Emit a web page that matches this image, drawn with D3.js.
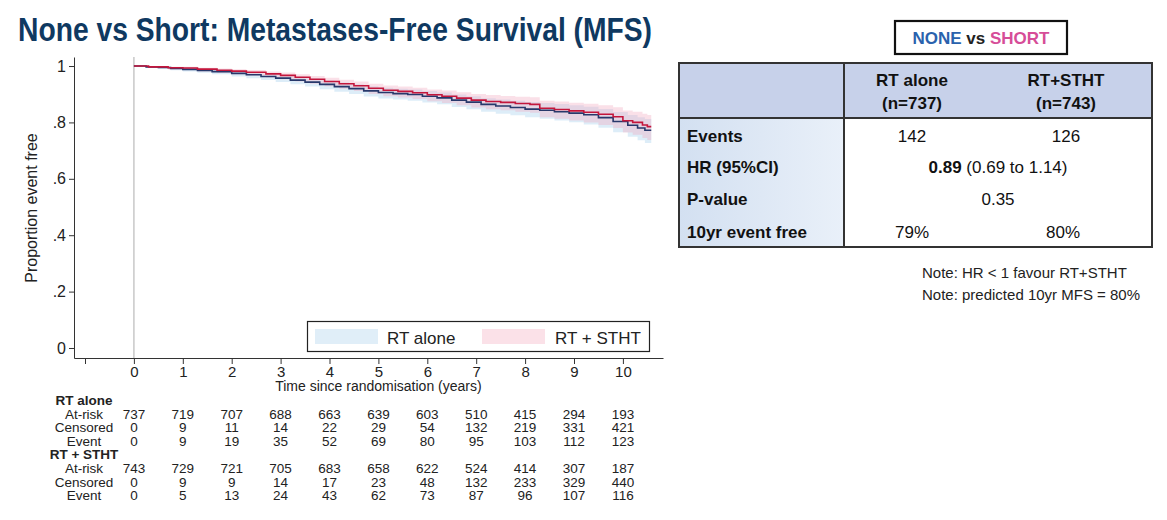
<!DOCTYPE html>
<html>
<head>
<meta charset="utf-8">
<script src="https://cdn.jsdelivr.net/npm/d3@7"></script>
<style>
  html, body { margin: 0; padding: 0; background: #ffffff; }
  svg { display: block; }
</style>
</head>
<body>
<svg id="chart" width="1167" height="520"></svg>
<script>
// ---------------- DATA ----------------
const titleText = "None vs Short: Metastases-Free Survival (MFS)";
const timeTicks = [-1, 0, 1, 2, 3, 4, 5, 6, 7, 8, 9, 10];
const yTicks = [0, 0.2, 0.4, 0.6, 0.8, 1];
const yTickLabels = ["0", ".2", ".4", ".6", ".8", "1"];
const seriesNames = ["RT alone", "RT + STHT"];

const riskYears = [0, 1, 2, 3, 4, 5, 6, 7, 8, 9, 10];
const rtAloneAtRisk   = [737, 719, 707, 688, 663, 639, 603, 510, 415, 294, 193];
const rtAloneCensored = [0, 9, 11, 14, 22, 29, 54, 132, 219, 331, 421];
const rtAloneEvent    = [0, 9, 19, 35, 52, 69, 80, 95, 103, 112, 123];
const sthtAtRisk      = [743, 729, 721, 705, 683, 658, 622, 524, 414, 307, 187];
const sthtCensored    = [0, 9, 9, 14, 17, 23, 48, 132, 233, 329, 440];
const sthtEvent       = [0, 5, 13, 24, 43, 62, 73, 87, 96, 107, 116];

// Kaplan-Meier steps: [time, survival, lowerCI, upperCI]
const rtAloneKM = [
  [0, 1.000, 1.000, 1.000], [0.25, 0.997, 0.993, 0.999], [0.5, 0.995, 0.990, 0.998],
  [0.75, 0.991, 0.985, 0.995], [1.0, 0.988, 0.981, 0.993], [1.3, 0.984, 0.976, 0.990],
  [1.6, 0.980, 0.971, 0.987], [2.0, 0.974, 0.963, 0.982], [2.3, 0.969, 0.957, 0.978],
  [2.6, 0.963, 0.950, 0.973], [2.9, 0.957, 0.943, 0.968], [3.2, 0.950, 0.935, 0.962],
  [3.5, 0.943, 0.927, 0.956], [3.8, 0.935, 0.918, 0.949], [4.1, 0.927, 0.909, 0.942],
  [4.4, 0.920, 0.901, 0.935], [4.7, 0.912, 0.892, 0.928], [5.0, 0.906, 0.885, 0.923],
  [5.3, 0.902, 0.881, 0.919], [5.6, 0.899, 0.877, 0.917], [5.9, 0.893, 0.871, 0.911],
  [6.2, 0.887, 0.864, 0.906], [6.5, 0.879, 0.855, 0.899], [6.8, 0.872, 0.847, 0.893],
  [7.1, 0.864, 0.838, 0.886], [7.4, 0.858, 0.831, 0.881], [7.7, 0.853, 0.825, 0.877],
  [8.0, 0.847, 0.818, 0.872], [8.3, 0.843, 0.813, 0.869], [8.6, 0.838, 0.807, 0.865],
  [8.9, 0.833, 0.801, 0.861], [9.2, 0.827, 0.793, 0.856], [9.5, 0.817, 0.781, 0.848],
  [9.8, 0.803, 0.765, 0.837], [10.1, 0.790, 0.749, 0.826], [10.3, 0.780, 0.737, 0.818],
  [10.45, 0.772, 0.727, 0.812], [10.58, 0.772, 0.727, 0.812]
];
const sthtKM = [
  [0, 1.000, 1.000, 1.000], [0.3, 0.997, 0.993, 0.999], [0.7, 0.994, 0.988, 0.997],
  [1.0, 0.993, 0.986, 0.997], [1.3, 0.989, 0.981, 0.994], [1.7, 0.985, 0.975, 0.991],
  [2.0, 0.982, 0.971, 0.989], [2.3, 0.978, 0.966, 0.986], [2.7, 0.972, 0.959, 0.981],
  [3.0, 0.967, 0.953, 0.977], [3.3, 0.960, 0.945, 0.971], [3.6, 0.953, 0.937, 0.965],
  [3.9, 0.945, 0.928, 0.958], [4.2, 0.937, 0.919, 0.951], [4.5, 0.930, 0.911, 0.945],
  [4.8, 0.921, 0.901, 0.937], [5.1, 0.914, 0.893, 0.931], [5.4, 0.910, 0.888, 0.927],
  [5.7, 0.905, 0.883, 0.923], [6.0, 0.898, 0.875, 0.917], [6.3, 0.893, 0.869, 0.913],
  [6.6, 0.886, 0.861, 0.907], [6.9, 0.879, 0.853, 0.901], [7.2, 0.874, 0.847, 0.897],
  [7.5, 0.871, 0.843, 0.894], [7.8, 0.867, 0.838, 0.891], [8.1, 0.864, 0.834, 0.889],
  [8.3, 0.850, 0.818, 0.877], [8.6, 0.846, 0.813, 0.874], [8.9, 0.841, 0.807, 0.870],
  [9.2, 0.836, 0.800, 0.866], [9.5, 0.829, 0.791, 0.861], [9.8, 0.820, 0.780, 0.854],
  [10.0, 0.806, 0.764, 0.842], [10.2, 0.800, 0.756, 0.838], [10.4, 0.791, 0.745, 0.831],
  [10.5, 0.785, 0.738, 0.826], [10.58, 0.785, 0.738, 0.826]
];

// Right-hand summary table
const tableHeaderTitles = ["RT alone", "RT+STHT"];
const tableHeaderN = ["(n=737)", "(n=743)"];
const tableRowLabels = ["Events", "HR (95%CI)", "P-value", "10yr event free"];
const eventsValues = ["142", "126"];
const hrBold = "0.89";
const hrCI = " (0.69 to 1.14)";
const pValue = "0.35";
const eventFree10yr = ["79%", "80%"];
const notes = ["Note: HR < 1 favour RT+STHT", "Note: predicted 10yr MFS = 80%"];

// ---------------- DRAW ----------------
const svg = d3.select("#chart");
const narrow = "'Liberation Sans Narrow', 'Arial Narrow', 'Liberation Sans', Arial, sans-serif";
const sans = "'Liberation Sans', Arial, sans-serif";

// Title
svg.append("text")
  .attr("x", 18).attr("y", 41)
  .attr("font-family", narrow).attr("font-weight", "bold")
  .attr("font-size", 34).attr("fill", "#0f3961")
  .attr("textLength", 634).attr("lengthAdjust", "spacingAndGlyphs")
  .text(titleText);

const x = d3.scaleLinear().domain([-1.225, 10.82]).range([74, 663]);
const y = d3.scaleLinear().domain([-0.0355, 1.032]).range([358, 57]);

// vertical reference line at t=0
svg.append("line")
  .attr("x1", x(0)).attr("x2", x(0))
  .attr("y1", y(1.032)).attr("y2", y(-0.0355))
  .attr("stroke", "#c8c8c8").attr("stroke-width", 1.5);

// CI bands
const band = d3.area()
  .x(d => x(d[0])).y0(d => y(d[2])).y1(d => y(d[3]))
  .curve(d3.curveStepAfter);
svg.append("path").datum(rtAloneKM).attr("d", band)
  .attr("fill", "rgba(180,215,240,0.45)");
svg.append("path").datum(sthtKM).attr("d", band)
  .attr("fill", "rgba(240,165,190,0.35)");

// KM lines
const kmLine = d3.line().x(d => x(d[0])).y(d => y(d[1])).curve(d3.curveStepAfter);
svg.append("path").datum(rtAloneKM).attr("d", kmLine)
  .attr("fill", "none").attr("stroke", "#27386b").attr("stroke-width", 1.6);
svg.append("path").datum(sthtKM).attr("d", kmLine)
  .attr("fill", "none").attr("stroke", "#c3163c").attr("stroke-width", 1.6);

// Y axis
const yAxis = d3.axisLeft(y).tickValues(yTicks)
  .tickFormat((d, i) => yTickLabels[i]).tickSize(5).tickSizeOuter(0).tickPadding(3);
const gy = svg.append("g").attr("transform", `translate(${x(-1.225)},0)`).call(yAxis);
gy.selectAll("text").attr("font-family", sans).attr("font-size", 16).attr("fill", "#222");
gy.selectAll("line, path").attr("stroke", "#333");

// X axis
const xAxis = d3.axisBottom(x).tickValues(timeTicks)
  .tickFormat(d => d < 0 ? "" : String(d)).tickSize(6).tickSizeOuter(0).tickPadding(2);
const gx = svg.append("g").attr("transform", `translate(0,${y(-0.0355)})`).call(xAxis);
gx.selectAll("text").attr("font-family", narrow).attr("font-size", 15).attr("fill", "#222");
gx.selectAll("line, path").attr("stroke", "#333");

// axis titles
svg.append("text")
  .attr("transform", `translate(37,${(y(1) + y(0)) / 2 + 1}) rotate(-90)`)
  .attr("text-anchor", "middle")
  .attr("font-family", sans).attr("font-size", 16).attr("fill", "#222")
  .text("Proportion event free");
svg.append("text")
  .attr("x", (x(0) + x(10)) / 2).attr("y", 391)
  .attr("text-anchor", "middle")
  .attr("font-family", narrow).attr("font-size", 14).attr("fill", "#222")
  .text("Time since randomisation (years)");

// Legend
const leg = svg.append("g");
leg.append("rect").attr("x", 307.5).attr("y", 321.5).attr("width", 342).attr("height", 30)
  .attr("fill", "#fff").attr("stroke", "#222").attr("stroke-width", 1.2);
const legColors = ["#e0eef8", "#fbe1e8"];
const legSwX = [315, 482];
const legTxX = [387, 555];
seriesNames.forEach((n, i) => {
  leg.append("rect").attr("x", legSwX[i]).attr("y", 329).attr("width", 63).attr("height", 15)
    .attr("fill", legColors[i]);
  leg.append("text").attr("x", legTxX[i]).attr("y", 343.5)
    .attr("font-family", sans).attr("font-size", 17).attr("fill", "#222").text(n);
});

// Risk table
const labelX = 84;
const rowStep = 13.6;
const risk = svg.append("g").attr("font-family", narrow).attr("font-size", 13.5).attr("fill", "#222");
const blocks = [
  { name: seriesNames[0], y0: 405, rows: [["At-risk", rtAloneAtRisk], ["Censored", rtAloneCensored], ["Event", rtAloneEvent]] },
  { name: seriesNames[1], y0: 405 + 4 * rowStep, rows: [["At-risk", sthtAtRisk], ["Censored", sthtCensored], ["Event", sthtEvent]] }
];
blocks.forEach(b => {
  risk.append("text").attr("x", labelX).attr("y", b.y0).attr("text-anchor", "middle")
    .attr("font-weight", "bold").text(b.name);
  b.rows.forEach((r, ri) => {
    const yy = b.y0 + rowStep * (ri + 1);
    risk.append("text").attr("x", labelX).attr("y", yy).attr("text-anchor", "middle").text(r[0]);
    r[1].forEach((v, k) => {
      risk.append("text").attr("x", x(riskYears[k])).attr("y", yy)
        .attr("text-anchor", "middle").text(v);
    });
  });
});

// ---------------- Right panel ----------------
const rp = svg.append("g");
// NONE vs SHORT box
rp.append("rect").attr("x", 895).attr("y", 21).attr("width", 172).attr("height", 33)
  .attr("fill", "#fff").attr("stroke", "#111").attr("stroke-width", 2.2);
const nvs = rp.append("text").attr("x", 981).attr("y", 44).attr("text-anchor", "middle")
  .attr("font-family", sans).attr("font-weight", "bold").attr("font-size", 17);
nvs.append("tspan").attr("fill", "#2a62ad").text("NONE");
nvs.append("tspan").attr("fill", "#222").text(" vs ");
nvs.append("tspan").attr("fill", "#d64d98").text("SHORT");

// Table
const defs = svg.append("defs");
const grad = defs.append("linearGradient").attr("id", "colGrad").attr("x1", "0").attr("x2", "1");
grad.append("stop").attr("offset", "0").attr("stop-color", "#d3e0f1");
grad.append("stop").attr("offset", "1").attr("stop-color", "#e9f0f9");

const tL = 679, tR = 1152, tT = 63, tB = 247, hB = 118, cD = 844;
rp.append("rect").attr("x", tL).attr("y", tT).attr("width", tR - tL).attr("height", hB - tT)
  .attr("fill", "#c7d1ea");
rp.append("rect").attr("x", tL).attr("y", hB).attr("width", cD - tL).attr("height", tB - hB)
  .attr("fill", "url(#colGrad)");
rp.append("rect").attr("x", tL).attr("y", tT).attr("width", tR - tL).attr("height", tB - tT)
  .attr("fill", "none").attr("stroke", "#333").attr("stroke-width", 2);
rp.append("line").attr("x1", tL).attr("x2", tR).attr("y1", hB).attr("y2", hB)
  .attr("stroke", "#333").attr("stroke-width", 2);
rp.append("line").attr("x1", cD).attr("x2", cD).attr("y1", tT).attr("y2", tB)
  .attr("stroke", "#333").attr("stroke-width", 2);

const colX = [912, 1066];
const tFont = { "font-family": sans, "font-size": 17, "fill": "#111" };
function tx(xp, yp, s, anchor, bold) {
  const t = rp.append("text").attr("x", xp).attr("y", yp).attr("text-anchor", anchor || "middle");
  Object.entries(tFont).forEach(([k, v]) => t.attr(k, v));
  if (bold) t.attr("font-weight", "bold");
  t.text(s);
  return t;
}
tableHeaderTitles.forEach((h, i) => {
  tx(colX[i], 86, h, "middle", true);
  tx(colX[i], 109, tableHeaderN[i], "middle", true);
});
const rowY = [142, 173, 205, 238];
tableRowLabels.forEach((l, i) => tx(687, rowY[i], l, "start", true));
eventsValues.forEach((v, i) => tx(colX[i], rowY[0], v));
const hr = tx(998, rowY[1], "");
hr.append("tspan").attr("font-weight", "bold").text(hrBold);
hr.append("tspan").text(hrCI);
tx(998, rowY[2], pValue);
tx(colX[0], rowY[3], eventFree10yr[0]);
tx(1063, rowY[3], eventFree10yr[1]);

// Notes
notes.forEach((n, i) => {
  rp.append("text").attr("x", 922).attr("y", 278 + 22 * i)
    .attr("font-family", narrow).attr("font-size", 15).attr("fill", "#222")
    .text(n);
});
</script>
</body>
</html>
